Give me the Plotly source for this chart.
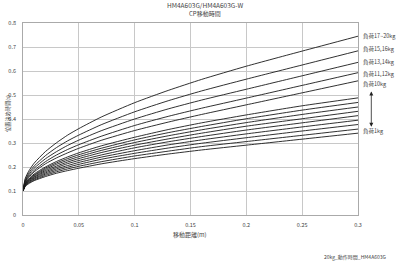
import plotly.graph_objects as go

x_dist = [0, 0.002, 0.005, 0.01, 0.02, 0.03, 0.04, 0.05, 0.07, 0.1, 0.13, 0.16, 0.2, 0.25, 0.3]

load_1kg = [0.1, 0.119, 0.130, 0.143, 0.160, 0.174, 0.185, 0.195, 0.213, 0.235, 0.254, 0.271, 0.291, 0.316, 0.341]
load_2kg = [0.1, 0.121, 0.133, 0.146, 0.165, 0.180, 0.192, 0.203, 0.222, 0.246, 0.266, 0.285, 0.306, 0.332, 0.358]
load_3kg = [0.1, 0.122, 0.135, 0.150, 0.170, 0.186, 0.199, 0.211, 0.232, 0.257, 0.279, 0.299, 0.322, 0.350, 0.377]
load_4kg = [0.1, 0.124, 0.138, 0.153, 0.175, 0.192, 0.206, 0.219, 0.241, 0.268, 0.292, 0.313, 0.338, 0.367, 0.395]
load_5kg = [0.1, 0.125, 0.140, 0.157, 0.180, 0.198, 0.214, 0.227, 0.250, 0.280, 0.305, 0.327, 0.354, 0.384, 0.414]
load_6kg = [0.1, 0.127, 0.143, 0.160, 0.185, 0.204, 0.221, 0.235, 0.260, 0.291, 0.317, 0.341, 0.370, 0.401, 0.432]
load_7kg = [0.1, 0.129, 0.145, 0.164, 0.190, 0.211, 0.228, 0.243, 0.269, 0.302, 0.330, 0.355, 0.385, 0.419, 0.450]
load_8kg = [0.1, 0.130, 0.148, 0.167, 0.195, 0.217, 0.235, 0.251, 0.278, 0.313, 0.343, 0.369, 0.401, 0.437, 0.469]
load_9kg = [0.1, 0.132, 0.150, 0.171, 0.200, 0.223, 0.242, 0.259, 0.288, 0.324, 0.356, 0.384, 0.417, 0.455, 0.488]
load_10kg = [0.1, 0.136, 0.156, 0.180, 0.213, 0.238, 0.259, 0.278, 0.311, 0.352, 0.387, 0.419, 0.459, 0.509, 0.559]
load_11_12kg = [0.1, 0.139, 0.161, 0.186, 0.222, 0.250, 0.273, 0.293, 0.328, 0.373, 0.411, 0.445, 0.487, 0.540, 0.593]
load_13_14kg = [0.1, 0.142, 0.167, 0.195, 0.234, 0.264, 0.290, 0.312, 0.351, 0.400, 0.442, 0.479, 0.524, 0.580, 0.636]
load_15_16kg = [0.1, 0.147, 0.174, 0.204, 0.247, 0.281, 0.309, 0.333, 0.376, 0.430, 0.476, 0.517, 0.566, 0.625, 0.684]
load_17_20kg = [0.1, 0.152, 0.182, 0.216, 0.264, 0.301, 0.333, 0.360, 0.408, 0.468, 0.519, 0.565, 0.620, 0.683, 0.745]

series = [load_1kg, load_2kg, load_3kg, load_4kg, load_5kg, load_6kg, load_7kg, load_8kg,
          load_9kg, load_10kg, load_11_12kg, load_13_14kg, load_15_16kg, load_17_20kg]

label_texts = ["負荷17~20kg", "負荷15,16kg", "負荷13,14kg", "負荷11,12kg", "負荷10kg", "負荷1kg"]
label_yvals = [0.746, 0.692, 0.639, 0.586, 0.545, 0.350]
arrow_top = 0.521
arrow_bottom = 0.368

x_ticks = [0, 0.05, 0.1, 0.15, 0.2, 0.25, 0.3]
x_tick_text = ["0", "0.05", "0.1", "0.15", "0.2", "0.25", "0.3"]
y_ticks = [0, 0.1, 0.2, 0.3, 0.4, 0.5, 0.6, 0.7, 0.8]
y_tick_text = ["0", "0.1", "0.2", "0.3", "0.4", "0.5", "0.6", "0.7", "0.8"]

FONT = "Noto Sans CJK JP"
TXT = "#444444"
PLOT_H = 192  # plot height in px (267 - 23 - 52)
Y_RANGE = 0.8

fig = go.Figure()
for s in series:
    fig.add_trace(go.Scatter(x=x_dist, y=s, mode="lines",
                             line=dict(color="#1a1a1a", width=0.9, shape="spline", smoothing=0.6),
                             hoverinfo="skip", showlegend=False))

annotations = []
for t, yv in zip(label_texts, label_yvals):
    annotations.append(dict(x=1.008, y=yv, xref="paper", yref="y", text=t, showarrow=False,
                            xanchor="left", yanchor="middle",
                            font=dict(family=FONT, size=5.5, color=TXT)))
# double-headed arrow between 10kg and 1kg labels
annotations.append(dict(x=1.0397, y=arrow_bottom, xref="paper", yref="y",
                        ax=0, ay=-(arrow_top - arrow_bottom) / Y_RANGE * PLOT_H,
                        axref="pixel", ayref="pixel",
                        text="", showarrow=True, arrowhead=2,
                        startarrowhead=2, arrowside="end+start", arrowsize=1,
                        arrowwidth=0.8, arrowcolor="#222222"))
annotations += [
    dict(x=0.543, y=1.094, xref="paper", yref="paper", text="HM4A603G/HM4A603G-W",
         xanchor="center", yanchor="middle",
         showarrow=False, font=dict(family=FONT, size=6.5, color=TXT)),
    dict(x=0.543, y=1.052, xref="paper", yref="paper", text="CP移動時間",
         xanchor="center", yanchor="middle",
         showarrow=False, font=dict(family=FONT, size=6, color=TXT)),
    dict(x=0.499, y=-0.099, xref="paper", yref="paper", text="移動距離(m)",
         xanchor="center", yanchor="middle",
         showarrow=False, font=dict(family=FONT, size=6, color=TXT)),
    dict(x=-0.045, y=0.531, xref="paper", yref="paper", text="位置決め時間(s)",
         xanchor="center", yanchor="middle",
         textangle=-90, showarrow=False, font=dict(family=FONT, size=5.2, color=TXT)),
    dict(x=1.093, y=-0.219, xref="paper", yref="paper", text="20kg_動作時間_HM4A603G",
         showarrow=False, xanchor="right", yanchor="middle",
         font=dict(family=FONT, size=5, color=TXT)),
]

fig.update_layout(
    width=400, height=267,
    margin=dict(l=23, r=42, t=23, b=52, autoexpand=False),
    paper_bgcolor="white", plot_bgcolor="white",
    annotations=annotations,
    font=dict(family=FONT, size=6, color=TXT),
)
fig.update_xaxes(range=[0, 0.3], tickvals=x_ticks, ticktext=x_tick_text,
                 showgrid=True, gridcolor="#c8c8c8", gridwidth=0.8,
                 showline=True, linecolor="#aaaaaa", linewidth=0.8, mirror=True,
                 zeroline=False, ticks="", ticklabelstandoff=4, automargin=False,
                 tickfont=dict(family=FONT, size=5.5, color=TXT))
fig.update_yaxes(range=[0, 0.8], tickvals=y_ticks, ticktext=y_tick_text,
                 showgrid=True, gridcolor="#c8c8c8", gridwidth=0.8,
                 showline=True, linecolor="#aaaaaa", linewidth=0.8, mirror=True,
                 zeroline=False, ticks="", ticklabelstandoff=5, automargin=False,
                 tickfont=dict(family=FONT, size=5.5, color=TXT))

fig.write_html("out.html")
